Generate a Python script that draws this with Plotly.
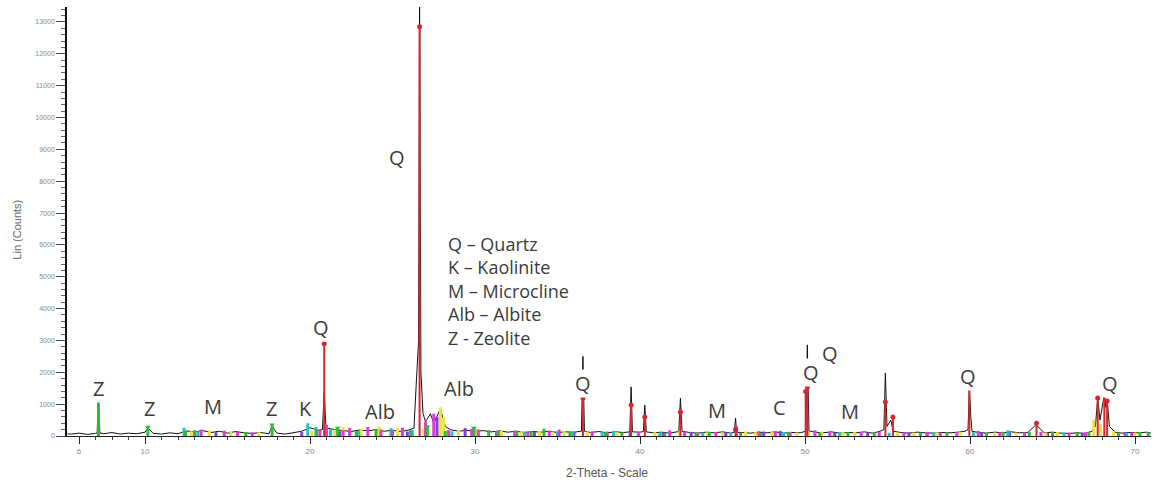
import plotly.graph_objects as go

# Measured diffractogram (2-theta in degrees, intensity in counts)
scan_2theta = [
    5.3, 5.5, 6.0, 6.5, 7.0, 7.1, 7.18, 7.26, 7.5, 8.0, 8.5, 9.0, 9.5, 10.0, 10.17, 10.5,
    11.0, 11.5, 12.0, 12.5, 13.0, 13.5, 14.0, 14.5, 15.0, 15.5, 16.0, 16.5, 17.0, 17.5,
    17.7, 18.0, 18.5, 19.0, 19.5, 20.0, 20.5, 20.75, 20.86, 20.97, 21.0, 21.5, 22.0, 22.5,
    23.0, 23.5, 24.0, 24.5, 25.0, 25.5, 26.0, 26.3, 26.45, 26.58, 26.64, 26.72, 26.85,
    27.0, 27.3, 27.5, 27.9, 28.2, 28.5, 29.0, 29.5, 30.0, 30.5, 31.0, 31.5, 32.0, 32.5,
    33.0, 33.5, 34.0, 34.5, 35.0, 35.5, 36.0, 36.45, 36.54, 36.63, 37.0, 37.5, 38.0, 38.5,
    39.0, 39.38, 39.46, 39.54, 40.0, 40.2, 40.29, 40.38, 40.8, 41.3, 41.8, 42.35, 42.45,
    42.55, 43.0, 43.5, 44.0, 44.5, 45.0, 45.5, 45.72, 45.79, 45.86, 46.2, 46.7, 47.2, 47.7,
    48.2, 48.7, 49.2, 49.7, 50.05, 50.14, 50.24, 50.6, 51.1, 51.6, 52.1, 52.6, 53.1, 53.6,
    54.1, 54.5, 54.78, 54.87, 54.97, 55.2, 55.35, 55.8, 56.3, 56.8, 57.3, 57.8, 58.3, 58.8,
    59.3, 59.7, 59.88, 59.96, 60.05, 60.12, 60.5, 61.0, 61.5, 62.0, 62.5, 63.0, 63.5, 64.0,
    64.5, 65.0, 65.5, 66.0, 66.5, 67.0, 67.4, 67.6, 67.74, 67.88, 68.14, 68.23, 68.31,
    68.45, 68.8, 69.2, 69.7, 70.2, 70.7, 71.0,
]
scan_counts = [
    70, 60, 90, 50, 80, 100, 1600, 100, 70, 110, 60, 90, 70, 120, 250, 80,
    60, 100, 70, 160, 130, 170, 110, 150, 90, 140, 100, 80, 110, 70,
    300, 90, 60, 100, 150, 260, 180, 200, 1400, 200, 250, 200, 180, 140,
    190, 160, 200, 150, 180, 140, 190, 250, 1760, 3000, 13700, 2000, 700,
    450, 700, 400, 850, 300, 200, 150, 180, 140, 170, 130, 160, 120, 150,
    110, 140, 120, 150, 110, 130, 120, 150, 2500, 150, 110, 140, 100, 130,
    110, 130, 1540, 130, 120, 140, 970, 130, 100, 120, 90, 140, 1190,
    150, 110, 90, 120, 100, 130, 90, 120, 560, 110, 110, 90, 120, 100,
    130, 90, 110, 100, 150, 2860, 160, 120, 100, 130, 90, 110, 100, 130,
    90, 140, 200, 1980, 300, 500, 150, 110, 90, 120, 100, 90, 110, 100,
    120, 150, 200, 1500, 600, 150, 110, 90, 120, 100, 130, 100, 110, 350,
    100, 120, 90, 80, 100, 80, 150, 300, 1190, 500, 1300, 900, 1150,
    300, 120, 90, 110, 100, 120, 90,
]

# Reference stick patterns of the identified phases: (2-theta, height)
quartz_pos = [20.86, 26.64, 36.54, 39.46, 40.29, 42.45, 45.79, 50.04, 50.14, 54.87, 55.33,
              59.96, 64.03, 67.74, 68.14, 68.31]
quartz_h = [2900, 12850, 1190, 970, 600, 750, 200, 1400, 1540, 1070, 600,
            1500, 400, 1190, 1290, 1100]

zeolite_pos = [7.18, 10.17, 12.46, 16.11, 17.7, 21.67, 24.0, 27.11, 29.94, 30.83, 32.54,
               34.18, 35.75, 41.5, 44.2, 47.3, 52.6, 62.0, 65.0, 66.5, 69.0, 70.3,
               13.0, 20.4, 22.8, 26.1, 28.2, 31.4, 33.4, 37.9, 38.9, 43.4, 46.1, 49.0,
               50.9, 54.2, 57.0, 58.6, 61.0, 63.6, 67.2, 70.8]
zeolite_h = [1700, 280, 150, 120, 350, 250, 220, 300, 250, 180, 150,
             230, 120, 100, 130, 100, 120, 130, 120, 100, 110, 130,
             180, 200, 150, 200, 160, 140, 150, 120, 110, 120, 110, 130,
             110, 120, 110, 120, 110, 120, 130, 120]

kaolinite_pos = [12.36, 19.86, 20.36, 21.24, 24.9, 35.0, 35.9, 38.4, 45.5, 55.1, 62.3,
                 13.2, 22.9, 26.2, 28.6, 33.0, 37.7, 41.2, 43.8, 48.7, 52.1, 57.8, 60.2,
                 65.7, 69.5]
kaolinite_h = [260, 400, 280, 220, 240, 150, 120, 160, 100, 100, 180,
               150, 160, 180, 150, 140, 120, 110, 110, 120, 110, 100, 120,
               110, 100]

microcline_pos = [13.4, 14.8, 15.6, 21.0, 22.4, 23.5, 24.3, 25.6, 27.0, 27.5, 29.8, 30.2,
                  31.3, 32.4, 35.1, 37.1, 41.8, 42.7, 44.6, 45.85, 47.2, 50.6, 51.5, 53.4,
                  56.0, 58.2, 60.5, 63.3, 66.0, 16.5, 20.6, 22.0, 25.0, 28.4, 33.2, 34.5,
                  38.0, 39.9, 43.5, 48.2, 49.1, 54.5, 57.4, 59.2, 61.8, 64.3, 67.0, 69.8]
microcline_h = [200, 170, 140, 350, 250, 280, 200, 260, 450, 700, 230, 200,
                150, 170, 200, 140, 180, 140, 130, 300, 150, 180, 140, 130,
                120, 110, 160, 120, 110, 120, 200, 180, 200, 180, 140, 160,
                140, 130, 120, 140, 130, 120, 120, 130, 120, 130, 120, 110]

albite_pos = [13.9, 15.2, 22.0, 23.1, 24.2, 25.3, 27.9, 28.1, 30.1, 31.6, 33.9, 35.4,
              36.8, 42.4, 44.1, 46.4, 48.0, 49.5, 51.0, 53.0, 56.6, 59.4, 61.5, 64.6,
              67.5, 67.9, 68.7, 12.8, 16.9, 20.1, 21.5, 26.9, 29.0, 32.8, 34.7, 38.6,
              40.9, 45.0, 47.0, 50.2, 52.3, 55.6, 58.0, 62.8, 65.3, 70.0]
albite_h = [180, 150, 280, 220, 300, 240, 900, 600, 220, 160, 150, 170,
            140, 150, 120, 140, 130, 110, 140, 120, 110, 120, 110, 110,
            500, 380, 150, 150, 120, 180, 200, 220, 180, 150, 140, 120,
            120, 110, 120, 130, 120, 110, 110, 110, 120, 110]

calcite_pos = [23.0, 27.7, 29.4, 31.4, 36.0, 39.4, 43.1, 47.5, 48.5, 57.4, 60.7, 64.7,
               14.3, 19.5, 21.8, 25.9, 33.6, 38.0, 41.4, 45.2, 51.8, 53.8, 56.3, 62.4,
               66.8, 69.4]
calcite_h = [150, 600, 250, 130, 130, 120, 130, 140, 160, 130, 110, 100,
             120, 130, 150, 140, 130, 110, 110, 120, 110, 120, 110, 110,
             100, 110]

# Peak labels: (text, 2-theta, counts)
label_text = ["Z", "Z", "M", "Z", "K", "Q", "Alb", "Q", "Alb", "Q", "M", "C", "Q", "Q",
              "M", "Q", "Q"]
label_x = [7.15, 10.3, 14.12, 17.64, 19.7, 20.67, 24.24, 25.27, 29.03, 36.55, 44.67,
           48.48, 50.36, 51.52, 52.73, 59.88, 68.48]
label_y = [1507, 879, 942, 879, 879, 3422, 785, 8760, 1507, 1664, 816,
           910, 2009, 2575, 754, 1884, 1664]

key_lines = ["Q – Quartz", "K – Kaolinite", "M – Microcline", "Alb – Albite", "Z - Zeolite"]
key_x = 28.24
key_y = 4553

x_ticks = [6, 10, 20, 30, 40, 50, 60, 70]

TEXT = "#3c3c3c"
FONT = "Open Sans"


def sticks(pos, h):
    xs, ys = [], []
    for p, v in zip(pos, h):
        xs += [p, p, None]
        ys += [0, v, None]
    return xs, ys


fig = go.Figure()

fig.add_trace(go.Scatter(x=scan_2theta, y=scan_counts, mode="lines",
                         line=dict(color="#111111", width=1), hoverinfo="skip"))

phases = [
    (calcite_pos, calcite_h, "#7b45d6"),
    (kaolinite_pos, kaolinite_h, "#22c3c6"),
    (albite_pos, albite_h, "#f1e23a"),
    (microcline_pos, microcline_h, "#e23ad8"),
    (zeolite_pos, zeolite_h, "#35b935"),
]
for pos, h, col in phases:
    sx, sy = sticks(pos, h)
    fig.add_trace(go.Scatter(x=sx, y=sy, mode="lines",
                             line=dict(color=col, width=3), hoverinfo="skip"))

zx = [p for p, v in zip(zeolite_pos, zeolite_h) if v >= 250]
zy = [v for v in zeolite_h if v >= 250]
fig.add_trace(go.Scatter(x=zx, y=zy, mode="markers",
                         marker=dict(color="#35b935", size=5, symbol="triangle-down"),
                         hoverinfo="skip"))

qx, qy = sticks(quartz_pos, quartz_h)
fig.add_trace(go.Scatter(x=qx, y=qy, mode="lines",
                         line=dict(color="#d9262c", width=2), hoverinfo="skip"))
fig.add_trace(go.Scatter(x=quartz_pos, y=quartz_h, mode="markers",
                         marker=dict(color="#d9262c", size=5), hoverinfo="skip"))

for t, x, y in zip(label_text, label_x, label_y):
    fig.add_annotation(x=x, y=y, text=t, showarrow=False, xanchor="center",
                       yanchor="middle", bgcolor="white", borderpad=0,
                       font=dict(family=FONT, size=20, color=TEXT))

# Phase key as one left-aligned text block
fig.add_annotation(x=key_x, y=key_y, text="<br>".join(key_lines), showarrow=False,
                   xanchor="left", yanchor="middle", align="left",
                   font=dict(family=FONT, size=18, color=TEXT))

fig.add_annotation(xref="paper", yref="paper", x=-0.053, y=0.48, text="Lin (Counts)",
                   textangle=-90, showarrow=False,
                   font=dict(family="Liberation Sans", size=11, color="#666666"))
fig.add_annotation(xref="paper", yref="paper", x=0.498, y=-0.086, text="2-Theta - Scale",
                   showarrow=False, yanchor="middle",
                   font=dict(family="Liberation Sans", size=12, color="#555555"))

fig.update_xaxes(range=[5.27, 70.97], tickvals=x_ticks, ticktext=[str(v) for v in x_ticks],
                 ticks="outside", ticklen=7, tickcolor="#222", showline=True,
                 linecolor="#222", linewidth=1, showgrid=False, zeroline=False,
                 tickfont=dict(family="Liberation Sans", size=8, color="#888888"),
                 minor=dict(dtick=1, tick0=0, ticks="outside", ticklen=3, tickcolor="#444"))
fig.update_yaxes(range=[0, 13470], dtick=1000, tick0=0, tickformat="d", ticks="outside",
                 ticklen=9, tickcolor="#444", showline=True, linecolor="#111",
                 linewidth=1.6, showgrid=False, zeroline=False,
                 tickfont=dict(family="Liberation Sans", size=7, color="#888888"),
                 minor=dict(dtick=200, ticks="outside", ticklen=4, tickcolor="#666"))

fig.update_layout(width=1161, height=484, margin=dict(l=67, r=10, t=7, b=48),
                  plot_bgcolor="white", paper_bgcolor="white", showlegend=False)

fig.write_html("out.html")
